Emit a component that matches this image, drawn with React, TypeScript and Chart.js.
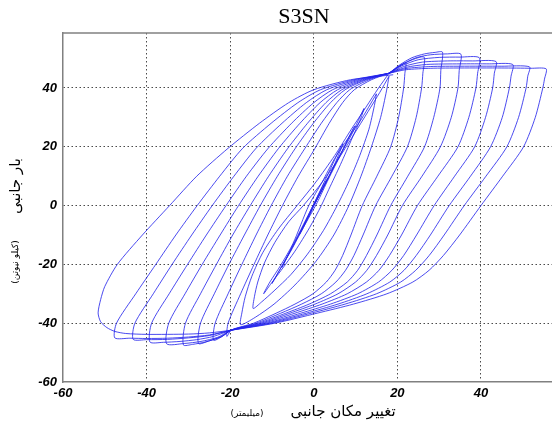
import { useEffect, useRef } from 'react';
import { Chart, registerables } from 'chart.js';

Chart.register(...registerables);

const TITLE = 'S3SN';
const X_TITLE = 'تغییر مکان جانبی';
const X_UNIT = '(میلیمتر)';
const Y_TITLE = 'بار جانبی';
const Y_UNIT = '(کیلو نیوتن)';

const X_TICKS = [-60, -40, -20, 0, 20, 40];
const Y_TICKS = [-60, -40, -20, 0, 20, 40];
const X_MIN = -60;
const X_MAX = 57;
const Y_MIN = -60;
const Y_MAX = 58.7;

// Elastic / small cycles (displacement mm, lateral load kN)
const E0 = [[0,0],[1.5,4],[3.5,9.5],[2.5,7.5],[0.5,2],[-1.5,-4],[-3.5,-10],[-2.5,-7.5],[-0.8,-2.5],[0,0]];
const E1 = [[0,0],[2,5.5],[4.5,12.5],[7,21],[5.8,18],[3.5,11],[0.5,2],[-2.5,-6.5],[-5.2,-14],[-7.6,-21],[-6.2,-17],[-3.8,-10.5],[-1.2,-3.5],[0,0]];
const E3 = [[0,0],[2.5,7],[5.5,15],[8,22],[9.8,27],[8.8,24.5],[6.5,17.5],[3.5,9],[0.8,1],[-2.5,-7.5],[-5.5,-15.5],[-8,-21.5],[-10,-26.5],[-8.6,-23],[-6,-16.5],[-3,-8.5],[-0.5,-1.5],[0,0]];
const E2 = [[0,0],[3,8],[6,16.5],[9,24],[12,33],[11.2,29.5],[9.2,23],[6.4,14],[3.6,5.5],[1.8,0],[-1,-7.5],[-4.5,-15.5],[-7.8,-22],[-10.2,-26.5],[-12,-30],[-10.5,-26],[-8,-20.5],[-5,-13],[-1.2,0],[2,8],[5,16],[8,22.5],[11,28.5],[15,38]];
const S3 = [[15,38],[14.5,34],[13.2,26],[11,17],[8.5,8.5],[5.6,0],[2.3,-8.5],[-1.5,-16.5],[-5.5,-23.5],[-9.5,-29],[-12.5,-32.8],[-14.5,-35],[-14.2,-31],[-13.4,-26],[-11.8,-19.5],[-9.3,-12.5],[-6,-5.5],[-2.5,0],[1.5,7],[5.5,15],[9.5,24],[13,32],[15.8,38.5],[18,44]];
const S2 = [[18,44],[17.4,39],[16,30],[13.8,20],[11.3,10],[8.4,0],[4.8,-10],[0.5,-19],[-4.5,-27],[-9.5,-33.5],[-14,-38],[-17.5,-40.5],[-17.2,-36.5],[-16.4,-31],[-14.8,-24],[-12.2,-16],[-8.5,-8],[-4,0],[0.5,8],[5,17],[9,26],[12.5,33.5],[15.5,40],[18,45]];
const S1 = [[18,45],[20,47],[22,48.5],[21.8,45],[21.5,40],[20.3,30],[18.4,20],[15.1,10],[11.6,0],[8.9,-10],[6.9,-17],[5.1,-22],[3,-26],[-0.2,-30],[-4.5,-33.5],[-9,-36.6],[-14.4,-40],[-19.7,-42.3],[-20.8,-44.5],[-20.5,-40],[-17.5,-30],[-14.3,-20],[-11,-10],[-7.5,0],[-3.7,10],[0.3,19.5],[3.7,28],[6.9,35],[9.7,39.4],[13.8,42.8],[18,45]];

// Large cycles
const L1 = [[18,45],[20.5,47.5],[23,49.3],[26.4,50.5],[26.1,45],[25.8,40],[24.5,30],[22.4,20],[18.7,10],[14.8,0],[11.8,-10],[9.6,-17],[7.6,-22],[5.3,-26],[1.8,-30],[-2.9,-33.5],[-7.9,-36.6],[-13.8,-40],[-19.7,-42.3],[-22,-44.6],[-24,-45.8],[-23.6,-40],[-20.5,-30],[-17.2,-20],[-13.8,-10],[-10.2,0],[-6.3,10],[-2.1,19.5],[1.8,28],[5.5,35],[8.6,39.4],[13.2,42.8],[18,45]];
const L2 = [[18,45],[20.5,47.8],[23.5,50.3],[26.5,51.6],[29,52.1],[30.8,52.2],[30.4,46],[30.2,40],[28.7,30],[26.5,20],[22.5,10],[18.4,0],[15.1,-10],[12.6,-17],[10.5,-22],[8,-26],[4,-30],[-1.1,-33.5],[-6.7,-36.6],[-13.2,-40],[-19.6,-42.3],[-22,-44.5],[-25,-46],[-27.6,-46.9],[-27.1,-40],[-23.8,-30],[-20.3,-20],[-16.6,-10],[-12.8,0],[-8.7,10],[-4.4,19.5],[-0.1,28],[4,35],[7.5,39.4],[12.6,42.8],[18,45]];
const L3 = [[18,45],[21,47.8],[24.5,50.3],[28,51.3],[32,51.6],[35.2,51.5],[34.8,46],[34.5,40],[32.9,30],[30.3,20],[25.9,10],[21.2,0],[17.7,-10],[15,-17],[12.7,-22],[10,-26],[5.8,-30],[0.3,-33.5],[-5.7,-36.6],[-12.6,-40],[-19.6,-42.3],[-22.5,-44.8],[-26,-46.4],[-29,-47.2],[-31.2,-47.4],[-30.7,-40],[-27.1,-30],[-23.3,-20],[-19.4,-10],[-15.2,0],[-10.8,10],[-6.2,19.5],[-1.5,28],[2.9,35],[6.7,39.4],[12.2,42.8],[18,45]];
const L4 = [[18,45],[21,47.5],[25,49.6],[30,50.4],[35,50.5],[39.6,50.3],[39.2,45],[38.8,40],[37.1,30],[34.5,20],[29.7,10],[24.8,0],[21,-10],[18.1,-17],[15.6,-22],[12.6,-26],[8,-30],[2,-33.5],[-4.5,-36.6],[-12,-40],[-19.6,-42.3],[-23,-44.8],[-27,-46.2],[-31,-46.9],[-35.2,-47],[-34.7,-40],[-30.8,-30],[-26.7,-20],[-22.4,-10],[-18,0],[-13.3,10],[-8.4,19.5],[-3.3,28],[1.5,35],[5.7,39.4],[11.7,42.8],[18,45]];
const L5 = [[18,45],[21.5,47.3],[26,48.8],[32,49.2],[38,49.2],[43.6,49],[43.2,45],[42.8,40],[41.1,30],[38.5,20],[33.7,10],[28.8,0],[24.6,-10],[21.5,-17],[18.7,-22],[15.5,-26],[10.5,-30],[4,-33.5],[-3.1,-36.6],[-11.3,-40],[-19.5,-42.3],[-24,-44.5],[-28,-45.6],[-32,-46.2],[-36,-46.5],[-39.2,-46.4],[-38.8,-40],[-34.6,-30],[-30.2,-20],[-25.7,-10],[-21,0],[-16.1,10],[-10.9,19.5],[-5.3,28],[0,35],[4.5,39.4],[11.1,42.8],[18,45]];
const L6 = [[18,45],[22,47],[27,48],[35,48.2],[42,48.2],[47.6,48],[47.2,44],[46.8,40],[45.1,30],[42.3,20],[37.5,10],[32.4,0],[27.9,-10],[24.5,-17],[21.6,-22],[18.2,-26],[12.7,-30],[5.8,-33.5],[-1.8,-36.6],[-10.7,-40],[-19.5,-42.3],[-25,-44.2],[-30,-45],[-35,-45.5],[-40,-45.6],[-43.2,-45.5],[-42.8,-40],[-38.4,-30],[-33.9,-20],[-29.2,-10],[-24.3,0],[-19.1,10],[-13.8,19.5],[-7.6,28],[-1.8,35],[3.1,39.4],[10.4,42.8],[18,45]];
const L7 = [[18,45],[22,46.6],[28,47.3],[35,47.4],[45,47.4],[51.6,47.2],[51.2,44],[50.8,40],[49,30],[46.2,20],[41.2,10],[36,0],[31.2,-10],[27.6,-17],[24.4,-22],[20.8,-26],[15,-30],[7.5,-33.5],[-0.6,-36.6],[-10,-40],[-19.4,-42.3],[-25,-44],[-30,-44.7],[-35,-45.1],[-40,-45.2],[-44,-45.1],[-47.6,-45],[-47.2,-40],[-42.6,-30],[-37.8,-20],[-33,-10],[-27.9,0],[-22.5,10],[-17,19.5],[-10.2,28],[-3.8,35],[1.6,39.4],[9.6,42.8],[18,45]];
const L8 = [[18,45],[22,46.2],[28,46.7],[35,46.8],[45,46.8],[52,46.7],[55.6,46.5],[55.2,43],[54.8,40],[53,30],[50.2,20],[45.2,10],[40,0],[34.9,-10],[31,-17],[27.6,-22],[23.7,-26],[17.5,-30],[9.5,-33.5],[0.8,-36.6],[-9.3,-40],[-19.4,-42.3],[-25,-43.3],[-30,-43.7],[-40,-43.8],[-45,-43.5],[-47.6,-42.8],[-49.5,-41.5],[-51,-39.5],[-51.6,-36.5],[-51,-32],[-50,-27.5],[-47,-20],[-41,-10],[-34.5,0],[-28,10],[-20.5,19.5],[-13,28],[-6,35],[0,39.4],[8.8,42.8],[19,44.5]];

const CYCLES = [E0, E1, E3, E2, S3, S2, S1, L1, L2, L3, L4, L5, L6, L7, L8];

const tickFont = { family: '"Liberation Sans", Arial, sans-serif', size: 13, weight: 'bold' as const, style: 'italic' as const };

const decorPlugin = {
  id: 'decor',
  afterDraw(chart: any) {
    const { ctx, chartArea } = chart;
    ctx.save();
    ctx.strokeStyle = '#808080';
    ctx.lineWidth = 1.5;
    ctx.beginPath();
    ctx.moveTo(chartArea.left, chartArea.top);
    ctx.lineTo(chartArea.right, chartArea.top);
    ctx.stroke();

    ctx.fillStyle = '#000';
    ctx.textAlign = 'center';
    ctx.textBaseline = 'middle';
    ctx.font = '22px "Liberation Serif", "Times New Roman", serif';
    ctx.fillText(TITLE, 304, 17);

    ctx.font = '15px "DejaVu Sans"';
    ctx.fillText(X_TITLE, 343, 412);
    ctx.font = '9px "DejaVu Sans"';
    ctx.fillText(X_UNIT, 247, 414);

    ctx.save();
    ctx.translate(16, 186);
    ctx.rotate(-Math.PI / 2);
    ctx.font = '15px "DejaVu Sans"';
    ctx.fillText(Y_TITLE, 0, 0);
    ctx.restore();

    ctx.save();
    ctx.translate(16, 262);
    ctx.rotate(-Math.PI / 2);
    ctx.font = '9px "DejaVu Sans"';
    ctx.fillText(Y_UNIT, 0, 0);
    ctx.restore();

    ctx.restore();
  },
};

const gridColor = (c: any) => (c.tick && c.tick.value === -60 ? 'rgba(0,0,0,0)' : '#4a4a4a');

export default function App() {
  const ref = useRef<HTMLCanvasElement | null>(null);

  useEffect(() => {
    if (!ref.current) return;
    const chart = new Chart(ref.current, {
      type: 'scatter',
      data: {
        datasets: CYCLES.map((c) => ({
          data: c.map(([x, y]) => ({ x, y })),
          showLine: true,
          borderColor: 'rgba(35,35,235,0.82)',
          borderWidth: 1,
          pointRadius: 0,
          tension: 0.25,
          fill: false,
        })),
      },
      options: {
        animation: false,
        responsive: true,
        maintainAspectRatio: false,
        events: [],
        layout: { padding: { top: 33, left: 0, right: 0, bottom: 0 } },
        plugins: { legend: { display: false }, tooltip: { enabled: false }, title: { display: false } },
        scales: {
          x: {
            type: 'linear',
            min: X_MIN,
            max: X_MAX,
            afterBuildTicks: (s: any) => { s.ticks = X_TICKS.map((v) => ({ value: v })); },
            afterFit: (s: any) => { s.height = 47; },
            ticks: { font: tickFont, color: '#000', padding: 4, maxRotation: 0, autoSkip: false },
            grid: { color: gridColor, lineWidth: 1, drawTicks: false },
            border: { display: true, color: '#808080', width: 1.5, dash: [1.5, 2.5] },
          },
          y: {
            type: 'linear',
            min: Y_MIN,
            max: Y_MAX,
            afterBuildTicks: (s: any) => { s.ticks = Y_TICKS.map((v) => ({ value: v })); },
            afterFit: (s: any) => { s.width = 63; },
            ticks: { font: tickFont, color: '#000', padding: 6, autoSkip: false },
            grid: { color: gridColor, lineWidth: 1, drawTicks: false },
            border: { display: true, color: '#808080', width: 1.5, dash: [1.5, 2.5] },
          },
        },
      },
      plugins: [decorPlugin],
    });
    return () => chart.destroy();
  }, []);

  return (
    <div style={{ position: 'fixed', left: 0, top: 0, width: 552, height: 429, background: '#fff' }}>
      <canvas ref={ref} />
    </div>
  );
}
